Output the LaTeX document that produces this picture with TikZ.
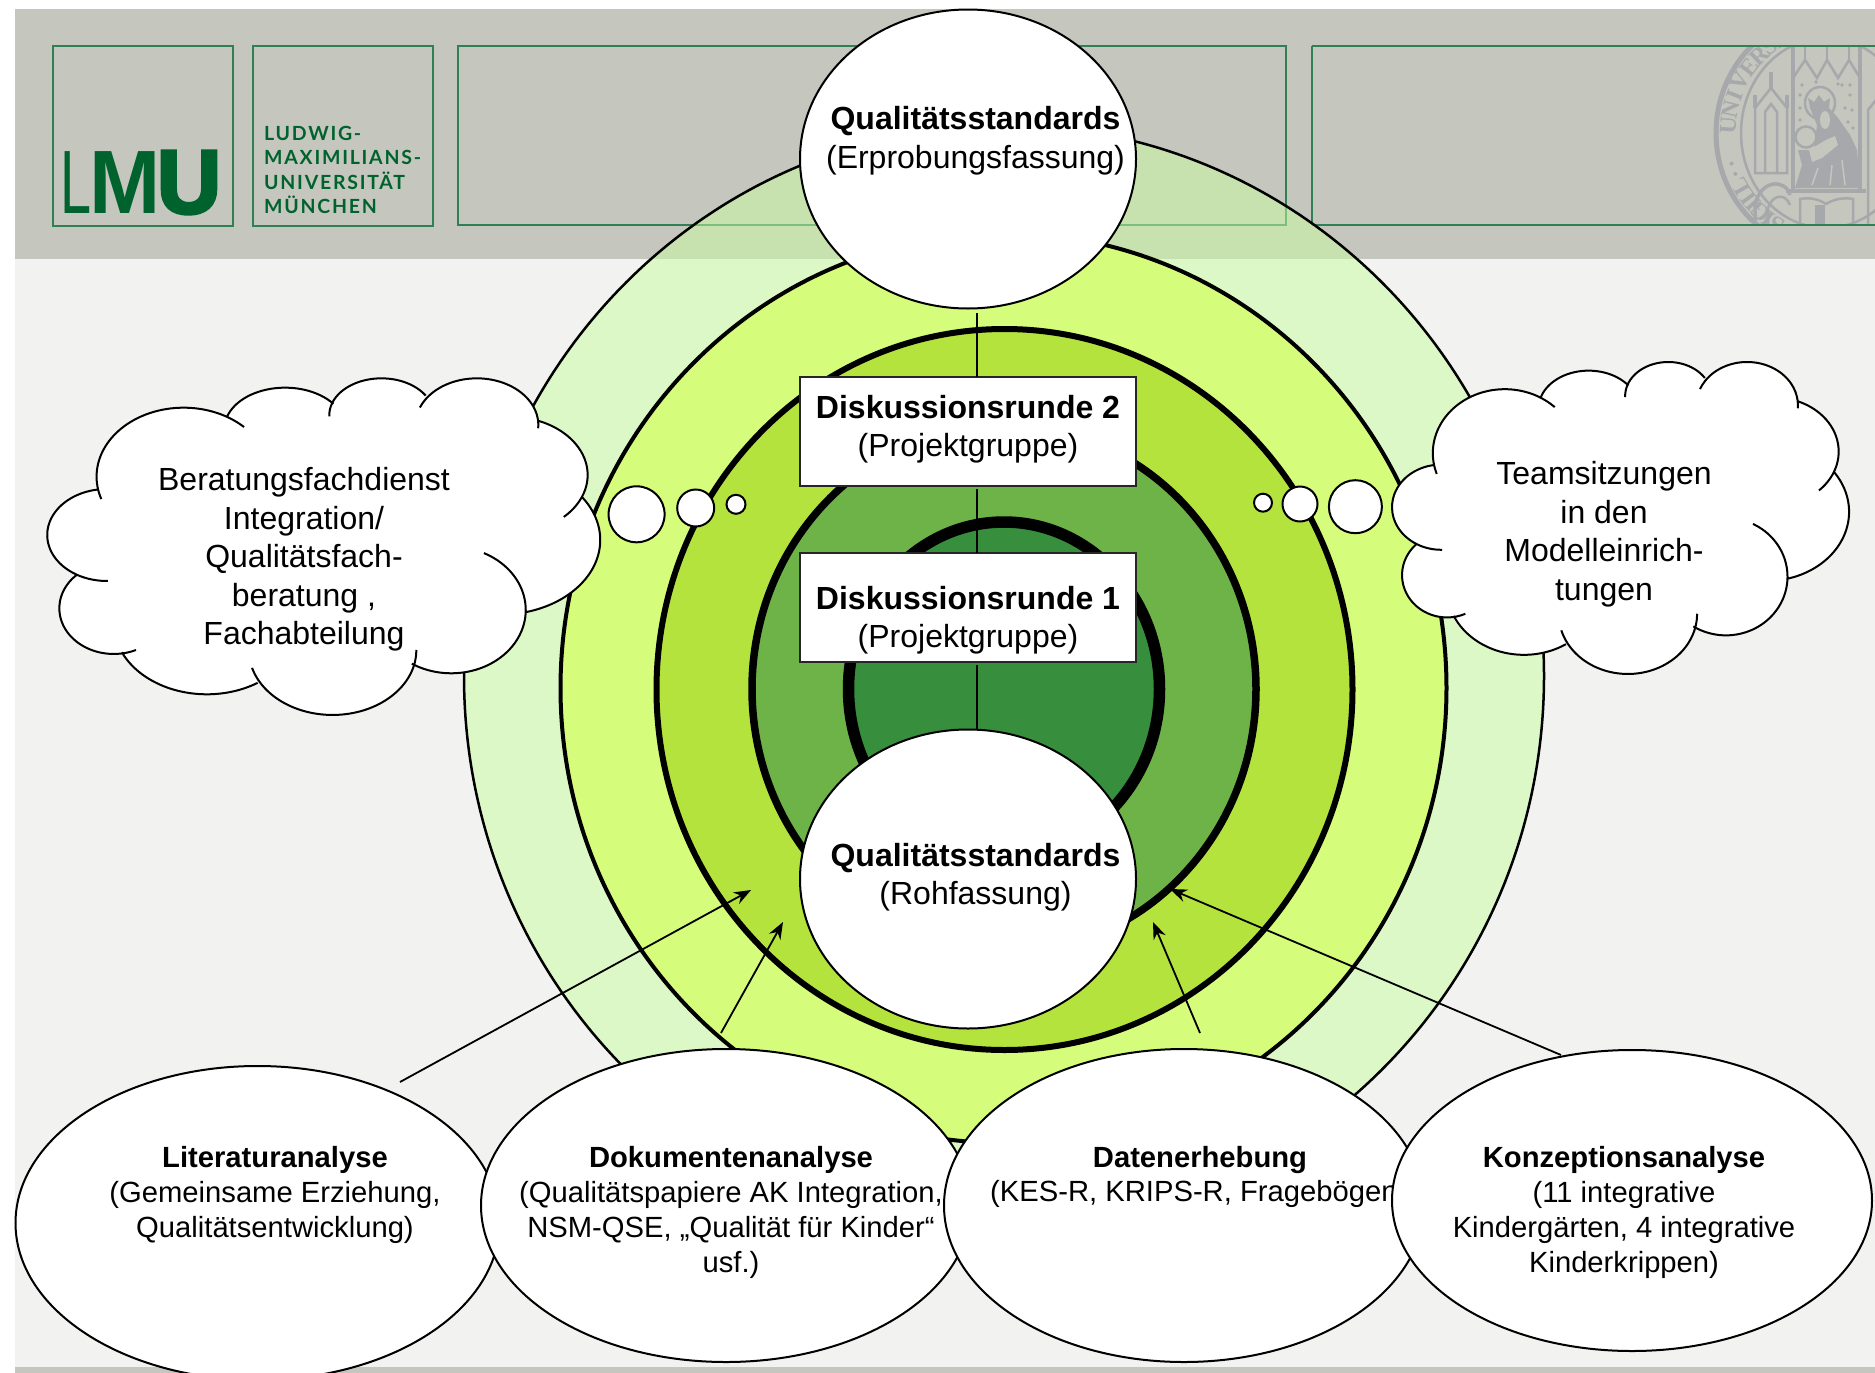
\documentclass[tikz,border=0pt]{standalone}
\usepackage{fontspec}
\setmainfont{Liberation Sans}
\newfontfamily\lmuschrift[LetterSpace=9]{Lato}
\newfontfamily\lmufett[FakeBold=4]{Liberation Sans Bold}
\newfontfamily\siegelschrift{Liberation Serif}
\usetikzlibrary{arrows.meta,calc,positioning,shapes.geometric}

\definecolor{kopfgrau}{HTML}{C5C6BD}
\definecolor{grund}{HTML}{F2F2F0}
\definecolor{rahmengruen}{HTML}{2F8054}
\definecolor{lmugruen}{HTML}{00632E}
\definecolor{siegelgrau}{HTML}{A6A8AC}
\definecolor{ring1}{HTML}{CAFEA0}
\definecolor{ring2}{HTML}{D5FC7A}
\definecolor{ring3}{HTML}{B5E33E}
\definecolor{ring4}{HTML}{6DB348}
\definecolor{ring5}{HTML}{378F3E}

\tikzset{
  ring/.style={ellipse,draw=black,inner sep=0pt,outer sep=0pt},
  oval/.style={ellipse,draw=black,fill=white,line width=2pt,inner sep=0pt,outer sep=0pt},
  kasten/.style={rectangle,draw=black!85,fill=white,line width=2pt,inner sep=0pt,outer sep=0pt,
                 minimum width=336pt,minimum height=109pt},
  blase/.style={circle,draw=black,fill=white,line width=2pt,inner sep=0pt,outer sep=0pt},
  gross/.style={align=center,inner sep=0pt,font=\fontsize{32}{38.5}\selectfont},
  klein/.style={align=center,inner sep=0pt,font=\fontsize{29.2}{35}\selectfont},
  logorahmen/.style={draw=rahmengruen,line width=2pt},
  steg/.style={draw=black,line width=2.5pt},
  pfeil/.style={draw=black,line width=1.8pt,-{Stealth[length=17pt,width=13pt]}},
  siegel/.style={draw=siegelgrau,line width=2.5pt},
  siegelzeichen/.style={inner sep=0pt,text=siegelgrau,font=\fontsize{24}{24}\siegelschrift\bfseries},
  bogen/.style={samples=30,smooth}
}

% Wolke in Bildpunkten der linken Wolke, #1 verbindet die Boegen
\newcommand{\wolkenrand}[1]{
  plot[bogen,domain=161:314] ({330+187*cos(\x)},{350+207*sin(\x)})
  #1 plot[bogen,domain=196:323] ({548+130*cos(\x)},{205+122*sin(\x)})
  #1 plot[bogen,domain=178:328] ({755+112*cos(\x)},{165+110*sin(\x)})
  #1 plot[bogen,domain=202:364] ({960+132*cos(\x)},{195+140*sin(\x)})
  #1 plot[bogen,domain=292:406] ({1030+168*cos(\x)},{345+175*sin(\x)})
  #1 plot[bogen,domain=325:435] ({1010+215*cos(\x)},{540+224*sin(\x)})
  #1 plot[bogen,domain=296:482] ({905+160*cos(\x)},{750+190*sin(\x)})
  #1 plot[bogen,domain=0:164] ({650+180*cos(\x)},{870+195*sin(\x)})
  #1 plot[bogen,domain=57:156] ({380+200*cos(\x)},{790+213*sin(\x)})
  #1 plot[bogen,domain=66:227] ({180+117*cos(\x)},{745+137*sin(\x)})
  #1 plot[bogen,domain=89:262] ({165+128*cos(\x)},{525+138*sin(\x)})
}

\begin{document}
\begin{tikzpicture}[x=1pt,y=-1pt]
  \clip (0,0) rectangle (1875,1373);
  \fill[white] (0,0) rectangle (1875,1373);
%
% Folienhintergrund
  \fill[grund] (15,259) rectangle (1875,1367);
  \fill[kopfgrau] (15,9) rectangle (1875,259);
  \fill[kopfgrau] (15,1367) rectangle (1875,1373);
  \draw[logorahmen] (52.5,46) rectangle (232.5,226);
  \draw[logorahmen] (252.5,46) rectangle (432.5,226);
  \draw[logorahmen] (457.5,46) rectangle (1285.5,225);
%
% Logo
  \node[anchor=base west,inner sep=0pt,text=lmugruen,font=\fontsize{90}{90}\selectfont] (lmuL)
    at (60,213) {\scalebox{.62}[1]{L}};
  \node[anchor=base west,inner sep=0pt,text=lmugruen,font=\fontsize{90}{90}\selectfont\bfseries] (lmuM)
    at (89,213) {\scalebox{.95}[1]{M}};
  \node[anchor=base west,inner sep=0pt,text=lmugruen,font=\fontsize{90}{90}\lmufett] (lmuU)
    at (157,213) {\scalebox{.98}[1]{U}};
  \node[anchor=west,align=left,inner sep=0pt,text=lmugruen,
        font=\fontsize{19.5}{24.3}\lmuschrift\bfseries] (lmutext)
    at (264,170) {LUDWIG-\\MAXIMILIANS-\\UNIVERSITÄT\\MÜNCHEN};
%
% Siegel
  \begin{scope}
    \clip (1311,46) rectangle (1880,225);
    \draw[siegel,line width=5pt] (1826,133) ellipse [x radius=110,y radius=118];
    \draw[siegel] (1826,133) ellipse [x radius=85,y radius=95];
    \foreach \zeichen/\winkel in {S/240,I/234,G/228,I/222,L/216,L/210,./203,./197,
                                  U/176,N/167,I/159,V/151,E/142,R/133,S/125,I/119}
      \node[siegelzeichen,rotate=\winkel-90,name=z\winkel]
        at ({1826+98*cos(\winkel)},{133-106*sin(\winkel)}) {\zeichen};
    \draw[siegel,line width=4pt] (1793,46) -- (1793,190) (1860,46) -- (1860,190);
    \draw[siegel,line width=4pt] (1786,191) -- (1866,191);
    \draw[siegel] (1793,78) -- (1805,60) -- (1817,78) -- (1827,60) -- (1838,78) -- (1849,60) -- (1860,78);
    \draw[siegel] (1805,46) -- (1805,60) (1827,46) -- (1827,60) (1849,46) -- (1849,60);
    \foreach \px/\py in {1802/85,1816/82,1838/84,1850/85,1800/95,1850/95,1845/108,1852/110,1800/108,1848/122,1853/128,1842/85,1800/120}
      \fill[siegelgrau] (\px,\py) circle [radius=1.8];
    \draw[siegel] (1755,173) -- (1755,108) -- (1771,88) -- (1787,108) -- (1787,173) -- cycle;
    \draw[siegel] (1765,173) -- (1765,112) -- (1771,104) -- (1777,112) -- (1777,173);
    \draw[siegel,line width=3.5pt] (1771,88) -- (1771,72);
    \draw[siegel,line width=3.5pt] (1755,108) -- (1755,95) (1787,108) -- (1787,95);
    \draw[siegel,line width=3.5pt] (1755,225) -- (1755,205) .. controls (1760,180) and (1785,178) .. (1790,195);
    \draw[siegel] (1768,225) -- (1768,208) .. controls (1772,195) and (1785,192) .. (1790,205);
    \draw[siegel] (1868,225) -- (1868,110) -- (1880,95);
    \draw[siegel] (1820,103) ellipse [x radius=15,y radius=16];
    \fill[siegelgrau] (1810,108) -- (1808,98) -- (1814,102) -- (1819,95) -- (1824,102) -- (1830,98) -- (1829,108) -- (1838,118)
      -- (1850,135) -- (1857,150) -- (1860,188) -- (1795,188)
      -- (1802,165) -- (1798,150) -- (1814,150) -- (1817,125) -- cycle;
    \fill[kopfgrau] (1825,120) ellipse [x radius=5,y radius=9];
    \fill[kopfgrau] (1809,150) -- (1826,140) -- (1835,136) -- (1838,145) -- (1822,158) -- (1812,162) -- cycle;
    \fill[kopfgrau] (1806,137) circle [radius=9];
    \draw[siegel] (1806,137) circle [radius=10.5];
    \draw[kopfgrau,line width=1.5pt] (1812,185) -- (1818,168) (1830,185) -- (1832,165) (1845,185) -- (1842,160);
    \draw[siegel] (1800,225) -- (1800,199) .. controls (1812,197) and (1820,200) .. (1826,204)
      .. controls (1832,200) and (1842,197) .. (1853,199) -- (1853,225);
    \fill[siegelgrau] (1815,205) rectangle (1825,225);
  \end{scope}
  \draw[logorahmen] (1311.5,46) -- (1880,46) (1311.5,225) -- (1880,225) (1311.5,46) -- (1311.5,225);
%
% Ringe
  \node[ring,line width=2.5pt,fill=ring1,fill opacity=.5,minimum width=1080pt,minimum height=1102pt] (r1) at (1004,676) {};
  \node[ring,line width=4pt,fill=ring2,minimum width=886pt,minimum height=910pt] (r2) at (1003.5,688) {};
  \node[ring,line width=6pt,fill=ring3,minimum width=696pt,minimum height=721pt] (r3) at (1004.5,689.5) {};
  \node[ring,line width=7.5pt,fill=ring4,minimum width=504pt,minimum height=528pt] (r4) at (1004,689) {};
  \node[ring,line width=11.5pt,fill=ring5,minimum width=311pt,minimum height=334pt] (r5) at (1004,689) {};
%
  \node[oval,minimum width=336pt,minimum height=299pt] (qsoben) at (968,159) {};
  \node[oval,minimum width=336pt,minimum height=299pt] (qsunten) at (968,879) {};
  \node[kasten] (dr2) at (968,431.6) {};
  \node[kasten] (dr1) at (968,607.8) {};
  \coordinate (vl) at (976.8,0);
  \draw[steg,shorten <=4.5pt] (vl |- qsoben.south) -- (vl |- dr2.north);
  \draw[steg,shorten <=3pt] (vl |- dr2.south) -- (vl |- dr1.north);
  \draw[steg,shorten <=3pt] (vl |- dr1.south) -- (vl |- qsunten.north);
%
  \node[gross] (qsobentxt) at ($(qsoben)+(7.5,-18.5)$) {\textbf{Qualitätsstandards}\\(Erprobungsfassung)};
  \node[gross] (qsuntentxt) at ($(qsunten)+(7.5,-2)$) {\textbf{Qualitätsstandards}\\(Rohfassung)};
  \node[gross] (dr2txt) at ($(dr2)+(0,-2.5)$) {\textbf{Diskussionsrunde 2}\\(Projektgruppe)};
  \node[gross] (dr1txt) at ($(dr1)+(0,12.5)$) {\textbf{Diskussionsrunde 1}\\(Projektgruppe)};
%
% Wolken
  \begin{scope}[shift={(30,360)},x=.4655pt,y=-.3333pt]
    \fill[white] \wolkenrand{--} -- cycle;
    \draw[black,line width=2pt] \wolkenrand{};
  \end{scope}
  \begin{scope}[shift={(1377.8,345)},x=.3847pt,y=-.3089pt]
    \fill[white] \wolkenrand{--} -- cycle;
    \draw[black,line width=2pt] \wolkenrand{};
  \end{scope}
  \node[gross] (beratung) at (304,559.5) {Beratungsfachdienst\\Integration/\\Qualitätsfach-\\beratung ,\\Fachabteilung};
  \node[gross] (teams) at (1604,534) {Teamsitzungen\\in den\\Modelleinrich-\\tungen};
  \node[blase,minimum size=56pt] (bl1) at (636.6,514.3) {};
  \node[blase,minimum size=37pt] (bl2) at (695.7,508) {};
  \node[blase,minimum size=19pt] (bl3) at (736,504.3) {};
  \node[blase,minimum size=53pt] (br1) at (1355.4,506.7) {};
  \node[blase,minimum size=35pt] (br2) at (1300,504) {};
  \node[blase,minimum size=18pt] (br3) at (1263,502.7) {};
%
% Analysen
  \node[oval,minimum width=484pt,minimum height=314pt] (lit) at (257.5,1223) {};
  \node[oval,minimum width=490pt,minimum height=313pt] (dok) at (726,1205.5) {};
  \node[klein] (littxt) at (275,1195) {\textbf{Literaturanalyse}\\(Gemeinsame Erziehung,\\Qualitätsentwicklung)};
  \node[klein] (doktxt) at (731,1212) {\textbf{Dokumentenanalyse}\\(Qualitätspapiere AK Integration,\\NSM-QSE, „Qualität für Kinder“\\usf.)};
  \node[oval,minimum width=480pt,minimum height=313pt] (dat) at (1184,1205.5) {};
  \node[klein,anchor=north] (dattxt) at (1200,1146) {\textbf{Datenerhebung}};
  \node[klein,anchor=north west] (dattxt2) at (990,1180) {(KES-R, KRIPS-R, Fragebögen)};
  \node[oval,minimum width=480pt,minimum height=301pt] (kon) at (1632,1200.5) {};
  \node[klein] (kontxt) at (1624,1212) {\textbf{Konzeptionsanalyse}\\(11 integrative\\Kindergärten, 4 integrative\\Kinderkrippen)};
%
  \coordinate (ziel1) at (751,890);
  \coordinate (ziel2) at (783,922);
  \coordinate (ziel3) at (1153,922);
  \coordinate (ziel4) at (1170,889);
  \draw[pfeil] ($(lit)+(142.5,-141)$) -- (ziel1);
  \draw[pfeil] ($(dok)+(-5,-172.5)$) -- (ziel2);
  \draw[pfeil] ($(dat)+(16,-172.5)$) -- (ziel3);
  \draw[pfeil] ($(kon)+(-71,-145.5)$) -- (ziel4);
\end{tikzpicture}
\end{document}
